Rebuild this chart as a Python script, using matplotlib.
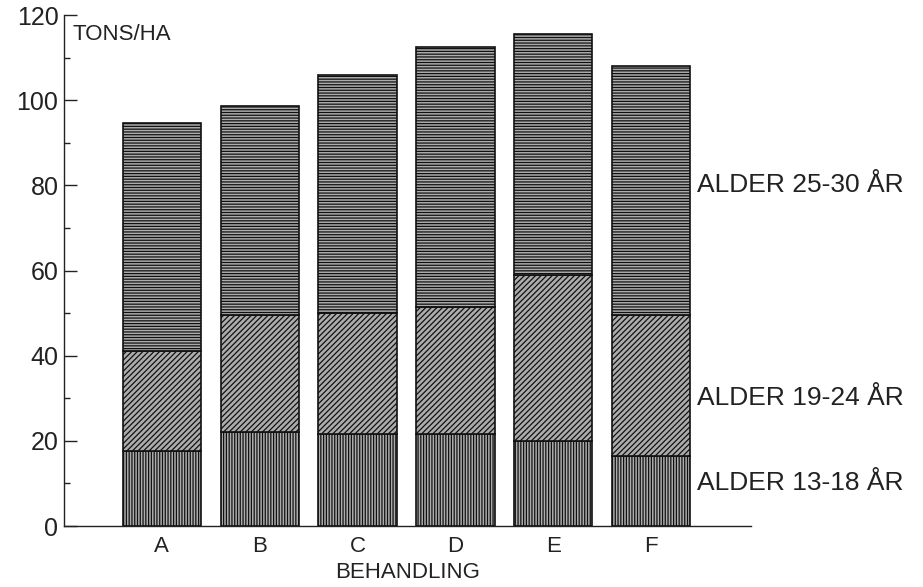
import matplotlib
matplotlib.use("Agg")
import matplotlib.pyplot as plt
from matplotlib.ticker import MultipleLocator
import matplotlib.transforms as mtransforms

plt.rcParams['font.family'] = ['Liberation Sans', 'DejaVu Sans']
plt.rcParams['hatch.linewidth'] = 0.9

# Data (tons/ha per age class)
behandling = ['A', 'B', 'C', 'D', 'E', 'F']
alder_13_18 = [17.5, 22.0, 21.5, 21.5, 20.0, 16.5]
alder_19_24 = [23.5, 27.5, 28.5, 30.0, 39.0, 33.0]   # layer thickness
alder_25_30 = [53.7, 49.2, 56.0, 61.0, 56.5, 58.5]   # layer thickness

serie_namn = ['ALDER 13-18 ÅR', 'ALDER 19-24 ÅR', 'ALDER 25-30 ÅR']
serie_hatch = ['||||||', '//////', '------']
etikett_y = [10, 30, 80]

fig = plt.figure(figsize=(9.23, 5.87), dpi=100)
ax = fig.add_axes([0.0693, 0.1039, 0.7443, 0.8705])

x = list(range(len(behandling)))
botten = [0.0] * len(behandling)
for serie, hatch in zip([alder_13_18, alder_19_24, alder_25_30], serie_hatch):
    ax.bar(x, serie, 0.8, bottom=botten, color='#acacac', edgecolor='#111111',
           hatch=hatch, linewidth=1.2)
    botten = [b + v for b, v in zip(botten, serie)]

ax.set_xlim(-1.0, 6.02)
ax.set_ylim(0, 120)

ax.spines['top'].set_visible(False)
ax.spines['right'].set_visible(False)
for s in ['left', 'bottom']:
    ax.spines[s].set_linewidth(1.0)
    ax.spines[s].set_color('#222222')

ax.yaxis.set_major_locator(MultipleLocator(20))
ax.yaxis.set_minor_locator(MultipleLocator(10))
ax.tick_params(axis='y', which='major', direction='in', length=9, width=1.0,
               labelsize=18, pad=4, colors='#222222')
ax.tick_params(axis='y', which='minor', direction='in', length=4.5, width=1.0,
               colors='#222222')

ax.set_xticks(x)
ax.set_xticklabels(behandling)
ax.tick_params(axis='x', length=0, labelsize=16, pad=7, colors='#222222')
ax.set_xlabel('BEHANDLING', fontsize=16, labelpad=4, color='#222222')

ax.text(0.012, 0.982, 'TONS/HA', transform=ax.transAxes, fontsize=16,
        ha='left', va='top', color='#222222')

trans = mtransforms.blended_transform_factory(ax.transAxes, ax.transData)
for namn, y in zip(serie_namn, etikett_y):
    ax.text(0.921, y, namn, transform=trans, fontsize=19, ha='left',
            va='center', clip_on=False, color='#222222')

fig.savefig('out.png', dpi=100)
